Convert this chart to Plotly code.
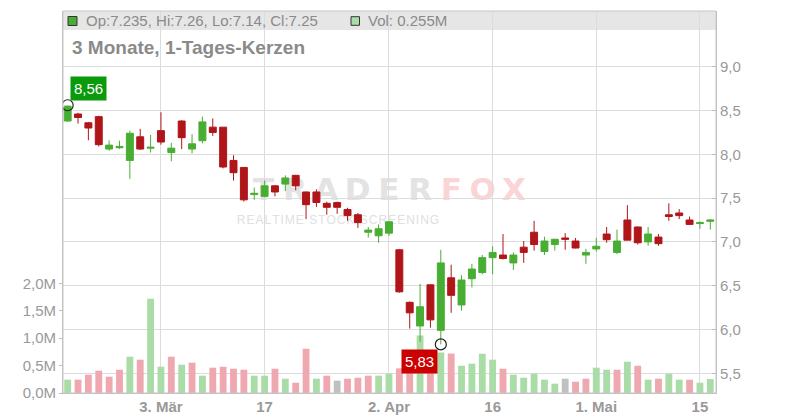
import plotly.graph_objects as go
import pandas as pd
import numpy as np

# ---------------- data ----------------
trading_days = pd.bdate_range("2025-02-18", "2025-05-16").drop(pd.Timestamp("2025-04-18"))
dates = [d.strftime("%Y-%m-%d") for d in trading_days]

opens = [8.38, 8.46, 8.36, 8.43, 8.06, 8.075, 7.93, 8.20, 8.07, 8.27,
         8.02, 8.38, 8.06, 8.155, 8.31, 8.31, 7.93, 7.85, 7.54, 7.52,
         7.64, 7.66, 7.76, 7.57, 7.57, 7.44, 7.45, 7.37, 7.31, 7.11,
         7.07, 7.10, 6.91, 6.31, 6.04, 6.51, 5.99, 6.59, 6.28, 6.58,
         6.65, 6.82, 6.85, 6.76, 6.94, 7.11, 6.89, 6.97, 7.045, 7.01,
         6.85, 6.92, 7.09, 6.88, 7.25, 7.17, 7.00, 7.055, 7.31, 7.33,
         7.25, 7.21, 7.235]
highs = [8.56, 8.475, 8.37, 8.44, 8.16, 8.155, 8.27, 8.29, 8.22, 8.48,
         8.13, 8.39, 8.23, 8.43, 8.41, 8.31, 7.99, 7.855, 7.62, 7.70,
         7.65, 7.76, 7.765, 7.575, 7.60, 7.46, 7.46, 7.39, 7.33, 7.17,
         7.20, 7.23, 6.92, 6.32, 6.52, 6.515, 6.91, 6.74, 6.62, 6.75,
         6.85, 6.95, 7.09, 6.88, 7.01, 7.24, 7.06, 7.035, 7.10, 7.045,
         6.92, 7.045, 7.17, 7.14, 7.42, 7.175, 7.17, 7.09, 7.44, 7.375,
         7.29, 7.235, 7.26]
lows = [8.37, 8.35, 8.16, 8.09, 8.04, 8.06, 7.72, 8.05, 8.02, 8.11,
        7.92, 8.06, 8.01, 8.125, 8.21, 7.84, 7.70, 7.46, 7.48, 7.51,
        7.52, 7.58, 7.59, 7.26, 7.40, 7.31, 7.32, 7.24, 7.16, 7.05,
        6.99, 7.07, 6.42, 6.01, 5.86, 6.02, 5.83, 6.19, 6.215, 6.48,
        6.63, 6.63, 6.80, 6.68, 6.76, 6.90, 6.85, 6.90, 6.91, 6.925,
        6.75, 6.89, 6.99, 6.86, 7.02, 6.97, 6.955, 6.955, 7.24, 7.26,
        7.195, 7.15, 7.14]
closes = [8.55, 8.42, 8.30, 8.11, 8.105, 8.09, 8.24, 8.06, 8.08, 8.14,
          8.07, 8.19, 8.12, 8.37, 8.25, 7.855, 7.79, 7.48, 7.555, 7.64,
          7.57, 7.73, 7.64, 7.425, 7.45, 7.395, 7.395, 7.30, 7.22, 7.135,
          7.15, 7.23, 6.43, 6.19, 6.26, 6.11, 6.76, 6.39, 6.565, 6.69,
          6.82, 6.88, 6.81, 6.85, 6.88, 6.97, 7.01, 7.03, 7.03, 6.93,
          6.88, 6.95, 7.025, 7.01, 7.02, 6.99, 7.09, 6.98, 7.29, 7.30,
          7.20, 7.22, 7.25]
volumes_m = [0.243, 0.243, 0.334, 0.407, 0.298, 0.425, 0.662, 0.608, 1.72, 0.48,
             0.662, 0.516, 0.553, 0.316, 0.462, 0.48, 0.443, 0.425, 0.316, 0.316,
             0.443, 0.261, 0.188, 0.808, 0.261, 0.316, 0.225, 0.261, 0.279, 0.316,
             0.316, 0.352, 0.45, 0.65, 1.05, 0.70, 0.74, 0.72, 0.498, 0.535,
             0.717, 0.608, 0.443, 0.334, 0.279, 0.352, 0.243, 0.17, 0.261, 0.206,
             0.261, 0.462, 0.425, 0.425, 0.571, 0.498, 0.243, 0.261, 0.352, 0.243,
             0.243, 0.188, 0.255]

tick_dates = ["2025-03-03", "2025-03-17", "2025-04-02", "2025-04-16", "2025-05-01", "2025-05-15"]
tick_text = ["3. Mär", "17", "2. Apr", "16", "1. Mai", "15"]
price_ticks = [5.5, 6.0, 6.5, 7.0, 7.5, 8.0, 8.5, 9.0]
volume_ticks = [0.0, 0.5, 1.0, 1.5, 2.0]
title_text = "3 Monate, 1-Tages-Kerzen"
watermark_main = "TRADER"
watermark_accent = "FOX"
watermark_sub = "REALTIME STOCK SCREENING"

# ---------------- styles ----------------
UP = "#48ae33"
DOWN = "#b0151a"
VOL_UP = "#aadca8"
VOL_DOWN = "#efa7b0"
VOL_FLAT = "#c0c0c0"
GRID = "#dcdcdc"
AXIS = "#bdbdbd"
TXT = "#999999"

# the page body adds an 8px offset, so the figure is shifted back by it
OFF = 8
W, H = 800 - OFF, 420 - OFF
# plot area in screen pixels
L, R, T, B = 63, 716, 11, 393


def px(x):
    return (x - L) / (R - L)


def py(y):
    return (B - y) / (B - T)


def de(v, nd):
    return f"{v:.{nd}f}".replace(".", ",")


vol_colors = []
for i, c in enumerate(closes):
    if i == 0 or c > closes[i - 1]:
        vol_colors.append(VOL_UP)
    elif c < closes[i - 1]:
        vol_colors.append(VOL_DOWN)
    else:
        vol_colors.append(VOL_FLAT)

fig = go.Figure()

fig.add_trace(go.Bar(
    x=dates, y=volumes_m, marker=dict(color=vol_colors, line=dict(width=0)),
    width=0.66, xaxis="x", yaxis="y", hoverinfo="skip", showlegend=False))

fig.add_trace(go.Candlestick(
    x=dates, open=opens, high=highs, low=lows, close=closes,
    increasing=dict(line=dict(color=UP, width=1), fillcolor=UP),
    decreasing=dict(line=dict(color=DOWN, width=1), fillcolor=DOWN),
    whiskerwidth=0, xaxis="x", yaxis="y2", hoverinfo="skip", showlegend=False))

i_hi = int(np.argmax(highs))
i_lo = int(np.argmin(lows))
fig.add_trace(go.Scatter(
    x=[dates[i_hi], dates[i_lo]], y=[highs[i_hi], lows[i_lo]], mode="markers",
    marker=dict(symbol="circle-open", size=11, color="#222222", line=dict(width=1.2)),
    xaxis="x", yaxis="y2", hoverinfo="skip", showlegend=False))

annotations = [
    dict(x=dates[i_hi], y=highs[i_hi], xref="x", yref="y2", text=de(highs[i_hi], 2),
         showarrow=False, xanchor="left", yanchor="bottom", xshift=2, yshift=4,
         bgcolor="#0b9a0b", borderpad=3,
         font=dict(family="Liberation Sans, Arial", size=15, color="white")),
    dict(x=dates[i_lo], y=lows[i_lo], xref="x", yref="y2", text=de(lows[i_lo], 2),
         showarrow=False, xanchor="right", yanchor="top", xshift=-3, yshift=-5,
         bgcolor="#cc0000", borderpad=3,
         font=dict(family="Liberation Sans, Arial", size=15, color="white")),
    dict(x=px(84), y=py(21), xref="paper", yref="paper", xanchor="left", yanchor="middle",
         showarrow=False,
         text=f"Op:{opens[-1]}, Hi:{highs[-1]}, Lo:{lows[-1]}, Cl:{closes[-1]}",
         font=dict(family="Liberation Sans, Arial", size=15, color="#8a8a8a")),
    dict(x=px(366), y=py(21), xref="paper", yref="paper", xanchor="left", yanchor="middle",
         showarrow=False, text=f"Vol: {volumes_m[-1]}M",
         font=dict(family="Liberation Sans, Arial", size=15, color="#8a8a8a")),
    dict(x=px(70), y=py(47.5), xref="paper", yref="paper", xanchor="left", yanchor="middle",
         showarrow=False, text=f"<b>{title_text}</b>",
         font=dict(family="Liberation Sans, Arial", size=19, color="#8a8a8a")),
]

shapes = [
    # header band
    dict(type="rect", xref="paper", yref="paper", x0=0, x1=1, y0=py(30), y1=1,
         fillcolor="#e6e6e6", line=dict(width=0), layer="below"),
]

# watermark letters, spread evenly like the wide logo font
letters = list(watermark_main) + list(watermark_accent)
x_start, step = 248, 31.3
for k, ch in enumerate(letters):
    col = "#e3e3e3" if k < len(watermark_main) else "#fbd4d8"
    x0 = x_start + k * step
    shapes.append(dict(
        type="rect", xref="paper", yref="paper", x0=px(x0), x1=px(x0 + step),
        y0=py(200), y1=py(174), line=dict(width=0), fillcolor="rgba(0,0,0,0)", layer="below",
        label=dict(text=ch, textposition="middle center",
                   font=dict(family="DejaVu Sans", size=31, color=col, weight="bold"))))
shapes.append(dict(
    type="rect", xref="paper", yref="paper", x0=px(246), x1=px(430), y0=py(226), y1=py(212),
    line=dict(width=0), fillcolor="rgba(0,0,0,0)", layer="below",
    label=dict(text="\u200a".join(watermark_sub), textposition="middle center",
               font=dict(family="Liberation Sans, Arial", size=12, color="#e0e0e0"))))

shapes += [
    # header legend squares
    dict(type="rect", xref="paper", yref="paper", x0=px(68), x1=px(77), y0=py(25.5), y1=py(16.5),
         fillcolor=UP, line=dict(color="#333333", width=1)),
    dict(type="rect", xref="paper", yref="paper", x0=px(351), x1=px(359.5), y0=py(25.3), y1=py(16.7),
         fillcolor=VOL_UP, line=dict(color="#333333", width=1)),
    # frame
    dict(type="rect", xref="paper", yref="paper", x0=0, x1=1, y0=0, y1=1,
         line=dict(color="#c8c8c8", width=1), fillcolor="rgba(0,0,0,0)"),
]

fig.update_layout(
    width=W, height=H,
    margin=dict(l=L - OFF, r=W - (R - OFF), t=T - OFF, b=H - (B - OFF), pad=0, autoexpand=False),
    paper_bgcolor="white", plot_bgcolor="white",
    separators=",.",
    showlegend=False,
    font=dict(family="Liberation Sans, Arial", color=TXT),
    boxgap=0.33, boxgroupgap=0,
    xaxis=dict(type="category", range=[-0.45, 62.55], tickmode="array",
               tickvals=tick_dates, ticktext=tick_text, automargin=False,
               showgrid=True, gridcolor=GRID, gridwidth=1,
               showline=True, linecolor=AXIS, ticks="", ticklen=2, tickcolor=AXIS,
               tickfont=dict(size=15, color=TXT, weight="bold"),
               rangeslider=dict(visible=False), fixedrange=True),
    yaxis=dict(range=[0, (B - T) / 54.8], side="left", tickmode="array", tickvals=volume_ticks,
               ticktext=[de(v, 1) + "M" for v in volume_ticks], automargin=False,
               showgrid=False, zeroline=False,
               showline=True, linecolor=AXIS, ticks="outside", ticklen=3, tickcolor=AXIS,
               tickfont=dict(size=15, color=TXT)),
    yaxis2=dict(range=[5.275, 9.636], overlaying="y", side="right", tickmode="array",
                tickvals=price_ticks, ticktext=[de(v, 1) for v in price_ticks], automargin=False,
                showgrid=True, gridcolor=GRID,
                zeroline=False, showline=True, linecolor=AXIS, ticks="inside", ticklen=4,
                tickcolor=AXIS, tickfont=dict(size=15, color=TXT)),
    annotations=annotations,
    shapes=shapes,
)

fig.write_html("out.html")
